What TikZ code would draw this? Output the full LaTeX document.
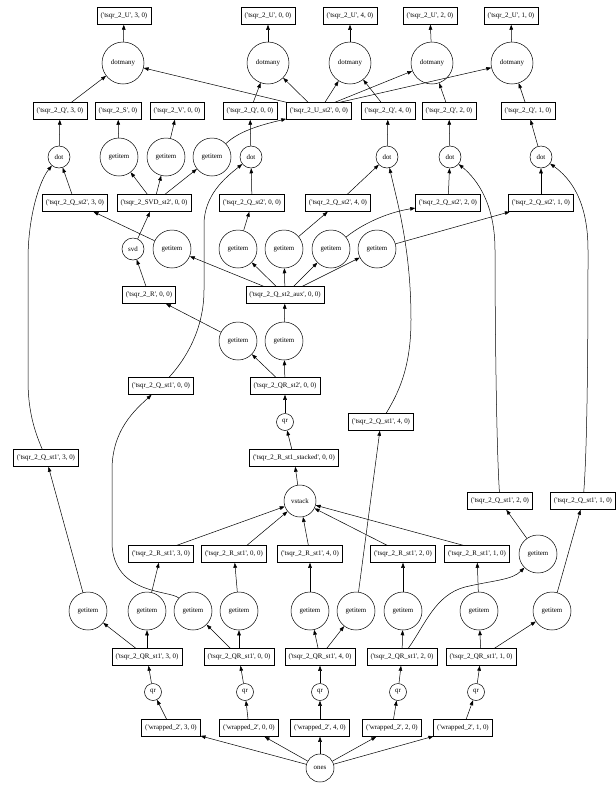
\documentclass[tikz,border=0pt]{standalone}
\usepackage{fontspec}
\setmainfont{Liberation Serif}
\usetikzlibrary{arrows.meta}
\newcommand\tk[2]{(\textquotesingle#1\textquotesingle, #2)}
\begin{document}
\begin{tikzpicture}[x=1pt,y=-1pt,font=\fontsize{6.9}{8}\selectfont,
  box/.style={draw,line width=0.5pt,minimum height=17pt,inner xsep=3.5pt,inner ysep=0pt},
  cir/.style={draw,circle,line width=0.5pt,inner sep=0pt,minimum size=#1},
  e/.style={-{Triangle[length=5pt,width=3.6pt]},line width=0.5pt}]
\useasboundingbox (0,0) rectangle (616,785);
% top row
\node[box] (U3) at (124,16) {\tk{tsqr\_2\_U}{3, 0}};
\node[box] (U0) at (268,16) {\tk{tsqr\_2\_U}{0, 0}};
\node[box] (U4) at (350,16) {\tk{tsqr\_2\_U}{4, 0}};
\node[box] (U2) at (430,16) {\tk{tsqr\_2\_U}{2, 0}};
\node[box] (U1) at (511,16) {\tk{tsqr\_2\_U}{1, 0}};
\node[cir=42] (M3) at (123,63) {dotmany};
\node[cir=42] (M0) at (268,63) {dotmany};
\node[cir=42] (M4) at (350,63) {dotmany};
\node[cir=42] (M2) at (432,63) {dotmany};
\node[cir=42] (M1) at (512,63) {dotmany};
\node[box] (Q3) at (60,111) {\tk{tsqr\_2\_Q}{3, 0}};
\node[box] (S) at (118,111) {\tk{tsqr\_2\_S}{0}};
\node[box] (V) at (177,111) {\tk{tsqr\_2\_V}{0, 0}};
\node[box] (Q0) at (250,111) {\tk{tsqr\_2\_Q}{0, 0}};
\node[box] (Ust) at (319,111) {\tk{tsqr\_2\_U\_st2}{0, 0}};
\node[box] (Q4) at (388,111) {\tk{tsqr\_2\_Q}{4, 0}};
\node[box] (Q2) at (449,111) {\tk{tsqr\_2\_Q}{2, 0}};
\node[box] (Q1) at (528,111) {\tk{tsqr\_2\_Q}{1, 0}};
\node[cir=22] (D3) at (59,157) {dot};
\node[cir=38] (GS) at (119,157) {getitem};
\node[cir=38] (GV) at (166,157) {getitem};
\node[cir=38] (GU) at (212,157) {getitem};
\node[cir=22] (D0) at (251,157) {dot};
\node[cir=22] (D4) at (387,157) {dot};
\node[cir=22] (D2) at (450,157) {dot};
\node[cir=22] (D1) at (541,157) {dot};
\node[box] (QT3) at (75,203) {\tk{tsqr\_2\_Q\_st2}{3, 0}};
\node[box] (SVD) at (154,203) {\tk{tsqr\_2\_SVD\_st2}{0, 0}};
\node[box] (QT0) at (252,203) {\tk{tsqr\_2\_Q\_st2}{0, 0}};
\node[box] (QT4) at (338,203) {\tk{tsqr\_2\_Q\_st2}{4, 0}};
\node[box] (QT2) at (448,203) {\tk{tsqr\_2\_Q\_st2}{2, 0}};
\node[box] (QT1) at (541,203) {\tk{tsqr\_2\_Q\_st2}{1, 0}};
\node[cir=22] (SV) at (133,249) {svd};
\node[cir=38] (G3) at (172,249) {getitem};
\node[cir=38] (G0) at (238,249) {getitem};
\node[cir=38] (G4) at (284,249) {getitem};
\node[cir=38] (G2) at (331,249) {getitem};
\node[cir=38] (G1) at (377,249) {getitem};
\node[box] (R) at (149,295) {\tk{tsqr\_2\_R}{0, 0}};
\node[box] (AUX) at (285,295) {\tk{tsqr\_2\_Q\_st2\_aux}{0, 0}};
\node[cir=38] (GR) at (238,341) {getitem};
\node[cir=38] (GA) at (284,341) {getitem};
\node[box] (QO0) at (161,386) {\tk{tsqr\_2\_Q\_st1}{0, 0}};
\node[box] (QR2) at (285,386) {\tk{tsqr\_2\_QR\_st2}{0, 0}};
\node[cir=17] (QRC) at (285,422) {qr};
\node[box] (QO4) at (381,422) {\tk{tsqr\_2\_Q\_st1}{4, 0}};
\node[box] (QO3) at (46,458) {\tk{tsqr\_2\_Q\_st1}{3, 0}};
\node[box] (RS) at (294,458) {\tk{tsqr\_2\_R\_st1\_stacked}{0, 0}};
\node[cir=32] (VS) at (300,501) {vstack};
\node[box] (QO2) at (500,501) {\tk{tsqr\_2\_Q\_st1}{2, 0}};
\node[box] (QO1) at (583,501) {\tk{tsqr\_2\_Q\_st1}{1, 0}};
\node[box] (RO3) at (161,554) {\tk{tsqr\_2\_R\_st1}{3, 0}};
\node[box] (RO0) at (234,554) {\tk{tsqr\_2\_R\_st1}{0, 0}};
\node[box] (RO4) at (310,554) {\tk{tsqr\_2\_R\_st1}{4, 0}};
\node[box] (RO2) at (403,554) {\tk{tsqr\_2\_R\_st1}{2, 0}};
\node[box] (RO1) at (477,554) {\tk{tsqr\_2\_R\_st1}{1, 0}};
\node[cir=38] (GQ2) at (538,554) {getitem};
\node[cir=38] (GQ3) at (88,611) {getitem};
\node[cir=38] (GR3) at (147,611) {getitem};
\node[cir=38] (GQ0) at (193,611) {getitem};
\node[cir=38] (GR0) at (239,611) {getitem};
\node[cir=38] (GR4) at (310,611) {getitem};
\node[cir=38] (GQ4) at (356,611) {getitem};
\node[cir=38] (GR2) at (403,611) {getitem};
\node[cir=38] (GR1) at (479,611) {getitem};
\node[cir=38] (GQ1) at (552,611) {getitem};
\node[box] (QR3) at (147,657) {\tk{tsqr\_2\_QR\_st1}{3, 0}};
\node[box] (QR0) at (239,657) {\tk{tsqr\_2\_QR\_st1}{0, 0}};
\node[box] (QR4) at (320,657) {\tk{tsqr\_2\_QR\_st1}{4, 0}};
\node[box] (QRb2) at (402,657) {\tk{tsqr\_2\_QR\_st1}{2, 0}};
\node[box] (QR1) at (481,657) {\tk{tsqr\_2\_QR\_st1}{1, 0}};
\node[cir=17] (q3) at (153,692) {qr};
\node[cir=17] (q0) at (245,692) {qr};
\node[cir=17] (q4) at (320,692) {qr};
\node[cir=17] (q2) at (398,692) {qr};
\node[cir=17] (q1) at (476,692) {qr};
\node[box] (W3) at (171,728) {\tk{wrapped\_2}{3, 0}};
\node[box] (W0) at (249,728) {\tk{wrapped\_2}{0, 0}};
\node[box] (W4) at (320,728) {\tk{wrapped\_2}{4, 0}};
\node[box] (W2) at (392,728) {\tk{wrapped\_2}{2, 0}};
\node[box] (W1) at (463,728) {\tk{wrapped\_2}{1, 0}};
\node[cir=28] (ones) at (320,768) {ones};
% straight edges
\foreach \a/\b in {ones/W3,ones/W0,ones/W4,ones/W2,ones/W1,
  W3/q3,W0/q0,W4/q4,W2/q2,W1/q1,
  q3/QR3,q0/QR0,q4/QR4,q2/QRb2,q1/QR1,
  QR3/GQ3,QR3/GR3,QR0/GQ0,QR0/GR0,QR4/GR4,QR4/GQ4,QRb2/GR2,QR1/GR1,QR1/GQ1,
  GQ3/QO3,GR3/RO3,GR0/RO0,GR4/RO4,GQ4/QO4,GR2/RO2,GQ2/QO2,GR1/RO1,GQ1/QO1,
  RO4/VS,VS/RS,RS/QRC,QRC/QR2,QR2/GR,QR2/GA,GR/R,GA/AUX,R/SV,SV/SVD,
  AUX/G3,AUX/G0,AUX/G4,AUX/G2,AUX/G1,
  G3/QT3,G0/QT0,G4/QT4,G1/QT1,
  SVD/GS,SVD/GV,SVD/GU,GS/S,GV/V,
  QT3/D3,QT0/D0,QT4/D4,QT2/D2,QT1/D1,
  D3/Q3,D0/Q0,D4/Q4,D2/Q2,D1/Q1,
  Q3/M3,Q0/M0,Q4/M4,Q2/M2,Q1/M1,
  M3/U3,M0/U0,M4/U4,M2/U2,M1/U1}
  \draw[e] (\a) -- (\b);
\draw[e] ([xshift=16pt]RO3.north) -- (VS);
\draw[e] ([xshift=13pt]RO0.north) -- (VS);
\draw[e] ([xshift=-16pt]RO2.north) -- (VS);
\draw[e] ([xshift=-14pt]RO1.north) -- (VS);
\draw[e] (Ust.north west) -- (M3);
\draw[e] ([xshift=-11pt]Ust.north) -- (M0);
\draw[e] ([xshift=6pt]Ust.north) -- (M4);
\draw[e] ([xshift=16pt]Ust.north) -- (M2);
\draw[e] ([xshift=21pt]Ust.north) -- (M1);
% curved edges
\draw[e] (GQ0) .. controls (170,590) and (115,595) .. (112,545) -- (112,470) .. controls (112,430) and (135,410) .. (QO0);
\draw[e] (QO0) .. controls (185,360) and (204,330) .. (204,290) -- (204,225) .. controls (204,195) and (225,178) .. (D0);
\draw[e] (QO4) .. controls (397,395) and (411,370) .. (411,320) .. controls (411,250) and (398,205) .. (D4);
\draw[e] (QO2) .. controls (496,440) and (495,300) .. (495,250) .. controls (495,205) and (478,180) .. (D2);
\draw[e] (QO1) .. controls (588,440) and (588,300) .. (588,250) .. controls (588,200) and (570,178) .. (D1);
\draw[e] (QO3) .. controls (34,430) and (28,410) .. (28,380) -- (28,260) .. controls (28,215) and (40,180) .. (D3);
\draw[e] (G2) .. controls (365,222) and (390,212) .. (QT2);
\draw[e] (GU) .. controls (240,130) and (265,124) .. (Ust);
\draw[e] (QRb2) .. controls (425,625) and (435,595) .. (465,587) .. controls (495,580) and (512,580) .. (GQ2);
\end{tikzpicture}
\end{document}
